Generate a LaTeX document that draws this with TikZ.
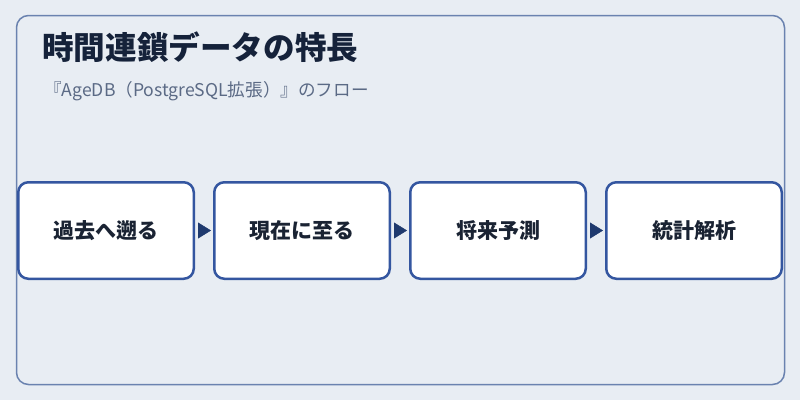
\documentclass[tikz,border=0pt]{standalone}
\usepackage{fontspec}
\setmainfont{Noto Sans CJK JP}
\usetikzlibrary{positioning, arrows.meta}

\definecolor{pagebg}{HTML}{E8EDF3}
\definecolor{framecol}{HTML}{6A82AF}
\definecolor{boxline}{HTML}{3456A0}
\definecolor{arrowcol}{HTML}{1F3A6E}
\definecolor{titlecol}{HTML}{15223A}
\definecolor{subcol}{HTML}{5B6A85}
\definecolor{textcol}{HTML}{1A2333}

\tikzset{
  stage/.style={draw=boxline, line width=2.5pt, fill=white,
                rounded corners=10pt, minimum width=175.5pt,
                minimum height=96.5pt, inner sep=0pt,
                font=\fontsize{21}{24}\selectfont\bfseries, text=textcol},
  flow/.style={-{Triangle[length=13pt, width=16pt]}, draw=arrowcol,
               fill=arrowcol, line width=0.4pt,
               shorten <=3pt, shorten >=2pt}
}

\begin{document}
\begin{tikzpicture}[x=1pt, y=-1pt]
        % Draw the page and the frame
        \fill[pagebg] (0, 0) rectangle (800, 400);
        \useasboundingbox (0, 0) rectangle (800, 400);
        \draw[framecol, line width=1.5pt, rounded corners=12pt]
            (16.5, 15.5) rectangle (784.5, 384.5);
        % Draw the headings
        \node[anchor=base west, inner sep=0pt, text=titlecol,
              font=\fontsize{31.6}{36}\selectfont\bfseries]
            at (42, 59)  (title) {時間連鎖データの特長};
        \node[anchor=base west, inner sep=0pt, text=subcol,
              font=\fontsize{17.6}{20}\selectfont]
            at (44, 96)  (sub)   {『AgeDB（PostgreSQL拡張）』のフロー};
        % Draw the stages
        \node[stage] at (106, 230.5)          (past)    {過去へ遡る};
        \node[stage, right=18pt of past]      (present) {現在に至る};
        \node[stage, right=18pt of present]   (future)  {将来予測};
        \node[stage, right=18pt of future]    (stats)   {統計解析};
        % Connect the stages with arrows
        \draw[flow] (past.east)    -- (present.west);
        \draw[flow] (present.east) -- (future.west);
        \draw[flow] (future.east)  -- (stats.west);
\end{tikzpicture}
\end{document}
